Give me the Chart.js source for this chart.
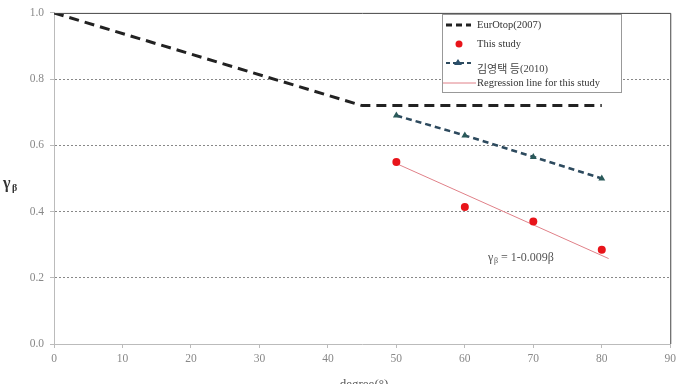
<!DOCTYPE html>
<html>
<head>
<meta charset="utf-8">
<script src="https://cdn.jsdelivr.net/npm/chart.js@4"></script>
<style>
  html, body { margin: 0; padding: 0; background: #fff; }
  #wrap { width: 680px; height: 384px; }
</style>
</head>
<body>
<div id="wrap"><canvas id="myChart" width="680" height="384"></canvas></div>
<script>
// EurOtop(2007) - odcinki
const eurX = [0, 45, 80];
const eurY = [1.0, 0.72, 0.72];

// This study - punkty pomiarowe
const studyX = [50, 60, 70, 80];
const studyY = [0.55, 0.414, 0.37, 0.285];

// 김영택 등(2010)
const kimX = [50, 60, 70, 80];
const kimY = [0.69, 0.63, 0.565, 0.5];

// Regression line for this study
const regX = [50, 81];
const regY = [0.545, 0.258];

const xTicks = [0, 10, 20, 30, 40, 50, 60, 70, 80, 90];
const yTicks = [0, 0.2, 0.4, 0.6, 0.8, 1.0];

const serif = "'Liberation Serif', 'DejaVu Serif', serif";

function toPoints(xs, ys) {
  return xs.map((x, i) => ({ x: x, y: ys[i] }));
}

// Ramka, legenda i podpisy rysowane ręcznie
const extras = {
  id: "extras",
  afterDraw(chart) {
    const ctx = chart.ctx;
    const a = chart.chartArea;
    ctx.save();
    // górna i prawa krawędź
    ctx.strokeStyle = "#444";
    ctx.lineWidth = 1;
    ctx.beginPath();
    ctx.moveTo(a.left, a.top + 0.5);
    ctx.lineTo(a.right + 0.5, a.top + 0.5);
    ctx.lineTo(a.right + 0.5, a.bottom);
    ctx.stroke();

    // opis osi Y
    ctx.fillStyle = "#333";
    ctx.font = "bold 16px " + serif;
    ctx.textBaseline = "alphabetic";
    ctx.fillText("γ", 3, 188);
    ctx.font = "bold 10px " + serif;
    ctx.fillText("β", 12, 191);

    // opis osi X (ucięty u dołu)
    ctx.fillStyle = "#555";
    ctx.font = "13px " + serif;
    ctx.textAlign = "center";
    ctx.fillText("degree(°)", 364, 388);

    // równanie regresji
    ctx.textAlign = "left";
    ctx.fillStyle = "#555";
    ctx.font = "12px " + serif;
    ctx.fillText("γ", 488, 261);
    ctx.font = "8px " + serif;
    ctx.fillText("β", 494, 263);
    ctx.font = "12px " + serif;
    ctx.fillText(" = 1-0.009β", 498, 261);

    // legenda
    const lx = 442, ly = 14, lw = 179, lh = 78;
    ctx.fillStyle = "#fff";
    ctx.fillRect(lx, ly, lw, lh);
    ctx.strokeStyle = "#999";
    ctx.strokeRect(lx + 0.5, ly + 0.5, lw, lh);

    const tx = 477;
    ctx.font = "10.5px " + serif;
    ctx.fillStyle = "#333";
    ctx.textBaseline = "middle";

    // EurOtop
    ctx.strokeStyle = "#222";
    ctx.lineWidth = 3;
    ctx.setLineDash([6, 4]);
    ctx.beginPath();
    ctx.moveTo(446, 25);
    ctx.lineTo(471, 25);
    ctx.stroke();
    ctx.fillText("EurOtop(2007)", tx, 25);

    // This study
    ctx.setLineDash([]);
    ctx.fillStyle = "#e8141a";
    ctx.beginPath();
    ctx.arc(459, 44, 3.5, 0, Math.PI * 2);
    ctx.fill();
    ctx.fillStyle = "#333";
    ctx.fillText("This study", tx, 44);

    // 김영택 등
    ctx.strokeStyle = "#2d4a5e";
    ctx.lineWidth = 2;
    ctx.setLineDash([4, 3]);
    ctx.beginPath();
    ctx.moveTo(446, 63);
    ctx.lineTo(471, 63);
    ctx.stroke();
    ctx.setLineDash([]);
    ctx.fillStyle = "#2a4f6a";
    ctx.beginPath();
    ctx.moveTo(458, 59);
    ctx.lineTo(462, 65);
    ctx.lineTo(454, 65);
    ctx.closePath();
    ctx.fill();
    ctx.fillStyle = "#444";
    ctx.font = "11px 'Noto Sans CJK KR'";
    ctx.fillText("김영택 등", tx, 69);
    const kw = ctx.measureText("김영택 등").width;
    ctx.font = "10.5px " + serif;
    ctx.fillText("(2010)", tx + kw, 69);

    // Regression line
    ctx.strokeStyle = "#e08088";
    ctx.lineWidth = 1;
    ctx.beginPath();
    ctx.moveTo(443, 83);
    ctx.lineTo(476, 83);
    ctx.stroke();
    ctx.fillStyle = "#333";
    ctx.fillText("Regression line for this study", tx, 83);
    ctx.restore();
  },
};

const ctx = document.getElementById("myChart").getContext("2d");

const myChart = new Chart(ctx, {
  type: "scatter",
  data: {
    datasets: [
      {
        label: "EurOtop(2007)",
        data: toPoints(eurX, eurY),
        showLine: true,
        borderColor: "#222",
        borderWidth: 3,
        borderDash: [10, 6],
        pointRadius: 0,
      },
      {
        label: "This study",
        data: toPoints(studyX, studyY),
        showLine: false,
        backgroundColor: "#e8141a",
        borderColor: "#e8141a",
        pointRadius: 4,
        borderWidth: 0,
      },
      {
        label: "김영택 등(2010)",
        data: toPoints(kimX, kimY),
        showLine: true,
        borderColor: "#2d4a5e",
        borderWidth: 2.5,
        borderDash: [6, 4],
        pointStyle: "triangle",
        pointRadius: 4,
        pointBackgroundColor: "#2a5a5a",
        pointBorderColor: "#2a5a5a",
        pointBorderWidth: 0,
      },
      {
        label: "Regression line for this study",
        data: toPoints(regX, regY),
        showLine: true,
        borderColor: "#e08088",
        borderWidth: 1,
        pointRadius: 0,
      },
    ],
  },
  options: {
    responsive: false,
    animation: false,
    layout: { padding: { top: 6, right: 9, left: 0, bottom: 0 } },
    plugins: {
      legend: { display: false },
      tooltip: { enabled: false },
    },
    scales: {
      x: {
        type: "linear",
        min: 0,
        max: 90,
        afterBuildTicks: (scale) => {
          scale.ticks = xTicks.map((v) => ({ value: v }));
        },
        afterFit: (scale) => {
          scale.height = 40;
        },
        grid: {
          drawOnChartArea: false,
          color: "#bbb",
          tickLength: 4,
        },
        border: { color: "#bbb", width: 1 },
        ticks: {
          color: "#888",
          font: { family: serif, size: 11.5 },
          padding: 4,
        },
      },
      y: {
        min: 0,
        max: 1,
        afterBuildTicks: (scale) => {
          scale.ticks = yTicks.map((v) => ({ value: v }));
        },
        afterFit: (scale) => {
          scale.width = 54;
        },
        grid: {
          color: (c) =>
            c.tick && (c.tick.value === 0 || c.tick.value === 1) ? "rgba(0,0,0,0)" : "#888",
          tickColor: "#bbb",
          tickLength: 4,
          tickBorderDash: [],
          lineWidth: 1,
        },
        border: { color: "#bbb", width: 1, dash: [2, 2] },
        ticks: {
          color: "#888",
          font: { family: serif, size: 11.5 },
          padding: 6,
          callback: (v) => v.toFixed(1),
        },
      },
    },
  },
  plugins: [extras],
});
</script>
</body>
</html>
